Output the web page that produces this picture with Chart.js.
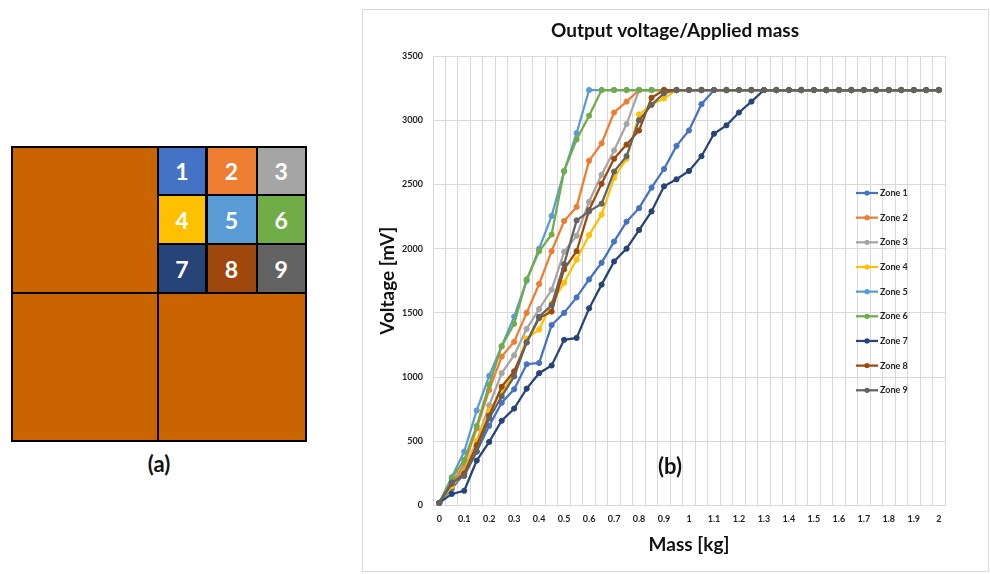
<!DOCTYPE html>
<html>
<head>
<meta charset="utf-8">
<script src="https://cdn.jsdelivr.net/npm/chart.js@4.4.1/dist/chart.umd.min.js"></script>
<style>
  body { margin: 0; background: #fff; font-family: Lato, sans-serif; }
  #page { position: relative; width: 990px; height: 574px; overflow: hidden; background: #fff; }
  .grid-bg { position: absolute; left: 11px; top: 146px; width: 296px; height: 296px; background: #000; }
  .cell { position: absolute; color: #fff; font-weight: bold; font-size: 23px; display: flex; align-items: center; justify-content: center; }
  .big { background: #c96400; }
  .lbl { position: absolute; font-weight: bold; font-size: 22px; color: #111; transform: translate(-50%, -50%); }
  #frame { position: absolute; left: 362px; top: 9px; width: 627px; height: 563px; box-sizing: border-box; border: 1px solid #d9d9d9; }
  #chartBox { position: absolute; left: 362px; top: 10px; width: 626px; height: 562px; }
</style>
</head>
<body>
<div id="page">
  <!-- (a) zone layout -->
  <div class="grid-bg"></div>
  <div class="cell big" style="left:13px;top:148px;width:144px;height:144px"></div>
  <div class="cell big" style="left:13px;top:294px;width:144px;height:146px"></div>
  <div class="cell big" style="left:159px;top:294px;width:146px;height:146px"></div>
  <div class="cell" style="left:159px;top:148px;width:46px;height:46px;background:#4472c4">1</div>
  <div class="cell" style="left:207.5px;top:148px;width:48px;height:46px;background:#ed7d31">2</div>
  <div class="cell" style="left:257.5px;top:148px;width:47.5px;height:46px;background:#a5a5a5">3</div>
  <div class="cell" style="left:159px;top:196px;width:46px;height:47px;background:#ffc000">4</div>
  <div class="cell" style="left:207.5px;top:196px;width:48px;height:47px;background:#5b9bd5">5</div>
  <div class="cell" style="left:257.5px;top:196px;width:47.5px;height:47px;background:#70ad47">6</div>
  <div class="cell" style="left:159px;top:245px;width:46px;height:47px;background:#264478">7</div>
  <div class="cell" style="left:207.5px;top:245px;width:48px;height:47px;background:#9e480e">8</div>
  <div class="cell" style="left:257.5px;top:245px;width:47.5px;height:47px;background:#636363">9</div>
  <div class="lbl" style="left:159px;top:463px">(a)</div>

  <!-- (b) chart -->
  <div id="frame"></div>
  <div id="chartBox"><canvas id="voltChart"></canvas></div>
  <div class="lbl" style="left:670px;top:465px">(b)</div>
</div>

<script>
// Mass categories [kg] (every 0.05, labelled every 0.1)
const masses = ['0','0.05','0.1','0.15','0.2','0.25','0.3','0.35','0.4','0.45','0.5','0.55','0.6','0.65','0.7','0.75','0.8','0.85','0.9','0.95',
  '1','1.05','1.1','1.15','1.2','1.25','1.3','1.35','1.4','1.45','1.5','1.55','1.6','1.65','1.7','1.75','1.8','1.85','1.9','1.95','2'];

const zoneNames = ['Zone 1','Zone 2','Zone 3','Zone 4','Zone 5','Zone 6','Zone 7','Zone 8','Zone 9'];
const zoneColors = ['#4472c4','#ed7d31','#a5a5a5','#ffc000','#5b9bd5','#70ad47','#264478','#9e480e','#636363'];

// Output voltage [mV]
const zone1 = [20,130,250,420,620,800,905,1100,1110,1405,1500,1620,1760,1890,2055,2210,2315,2475,2620,2800,
  2920,3125,3235,3235,3235,3235,3235,3235,3235,3235,3235,3235,3235,3235,3235,3235,3235,3235,3235,3235,3235];
const zone2 = [20,170,320,600,900,1160,1275,1500,1725,1980,2215,2325,2685,2820,3060,3145,3235,3235,3235,3235,
  3235,3235,3235,3235,3235,3235,3235,3235,3235,3235,3235,3235,3235,3235,3235,3235,3235,3235,3235,3235,3235];
const zone3 = [20,160,280,500,780,1030,1170,1375,1530,1680,1975,2100,2365,2575,2765,2970,3235,3235,3235,3235,
  3235,3235,3235,3235,3235,3235,3235,3235,3235,3235,3235,3235,3235,3235,3235,3235,3235,3235,3235,3235,3235];
const zone4 = [20,150,260,500,740,880,1020,1300,1370,1575,1735,1915,2105,2265,2550,2700,3045,3120,3170,3235,
  3235,3235,3235,3235,3235,3235,3235,3235,3235,3235,3235,3235,3235,3235,3235,3235,3235,3235,3235,3235,3235];
const zone5 = [20,220,420,740,1010,1240,1470,1750,2000,2255,2600,2900,3235,3235,3235,3235,3235,3235,3235,3235,
  3235,3235,3235,3235,3235,3235,3235,3235,3235,3235,3235,3235,3235,3235,3235,3235,3235,3235,3235,3235,3235];
const zone6 = [20,210,355,620,940,1240,1415,1760,1980,2110,2605,2850,3035,3235,3235,3235,3235,3235,3235,3235,
  3235,3235,3235,3235,3235,3235,3235,3235,3235,3235,3235,3235,3235,3235,3235,3235,3235,3235,3235,3235,3235];
const zone7 = [20,90,115,350,495,660,755,910,1030,1090,1290,1305,1535,1720,1900,2000,2145,2290,2485,2540,
  2605,2720,2895,2960,3060,3145,3235,3235,3235,3235,3235,3235,3235,3235,3235,3235,3235,3235,3235,3235,3235];
const zone8 = [20,170,250,470,700,925,1045,1270,1460,1510,1840,1980,2300,2505,2700,2810,2920,3175,3235,3235,
  3235,3235,3235,3235,3235,3235,3235,3235,3235,3235,3235,3235,3235,3235,3235,3235,3235,3235,3235,3235,3235];
const zone9 = [20,180,230,420,680,850,1005,1270,1470,1560,1880,2220,2290,2350,2600,2720,3000,3120,3210,3235,
  3235,3235,3235,3235,3235,3235,3235,3235,3235,3235,3235,3235,3235,3235,3235,3235,3235,3235,3235,3235,3235];

const zoneValues = [zone1, zone2, zone3, zone4, zone5, zone6, zone7, zone8, zone9];

const yMin = 0, yMax = 3500, yStep = 500;

Chart.defaults.font.family = 'Lato, "Open Sans", sans-serif';
Chart.defaults.color = '#222';

// legend sits inside the plot, like the Excel one
const zoneLegend = {
  id: 'zoneLegend',
  afterDraw(chart) {
    const ctx = chart.ctx;
    const x0 = 494, y0 = 183, gap = 24.66;
    chart.data.datasets.forEach((ds, i) => {
      const y = y0 + i * gap;
      ctx.save();
      ctx.strokeStyle = ds.borderColor;
      ctx.lineWidth = 2.25;
      ctx.beginPath(); ctx.moveTo(x0, y); ctx.lineTo(x0 + 22, y); ctx.stroke();
      ctx.fillStyle = ds.borderColor;
      ctx.beginPath(); ctx.arc(x0 + 11, y, 2.6, 0, Math.PI * 2); ctx.fill();
      ctx.fillStyle = '#262626';
      ctx.font = 'bold 9px Lato';
      ctx.textBaseline = 'middle';
      ctx.fillText(ds.label, x0 + 24, y);
      ctx.restore();
    });
  }
};

new Chart(document.getElementById('voltChart'), {
  type: 'line',
  data: {
    labels: masses,
    datasets: zoneNames.map((name, i) => ({
      label: name,
      data: zoneValues[i],
      borderColor: zoneColors[i],
      backgroundColor: zoneColors[i],
      pointBackgroundColor: zoneColors[i],
      pointBorderColor: zoneColors[i],
      borderWidth: 2.25,
      pointRadius: 2.6,
      pointBorderWidth: 1,
      tension: 0,
      order: 10 - i,
    })),
  },
  options: {
    responsive: true, maintainAspectRatio: false, animation: false,
    layout: { padding: 0 },
    plugins: {
      legend: { display: false },
      tooltip: { enabled: false },
      title: {
        display: true, text: 'Output voltage/Applied mass', color: '#111',
        font: { size: 19, weight: 'bold', lineHeight: 1.2 },
        padding: { top: 9.6, bottom: 13.6 },
      },
    },
    scales: {
      x: {
        type: 'category', offset: true,
        grid: { offset: true, color: '#d9d9d9', drawTicks: false },
        border: { color: '#d9d9d9' },
        ticks: {
          autoSkip: false, maxRotation: 0, minRotation: 0, padding: 8,
          font: { size: 9, weight: 'bold' }, color: '#222',
          callback: function (v, idx) { return idx % 2 === 0 ? this.getLabelForValue(v) : ''; },
        },
        title: { display: true, text: 'Mass [kg]', color: '#111', font: { size: 19, weight: 'bold', lineHeight: 1.2 }, padding: { top: 0, bottom: 15.6 } },
        afterFit: s => { s.height = 66.5; },
      },
      y: {
        min: yMin, max: yMax,
        grid: { color: '#d9d9d9', drawTicks: false },
        border: { display: false },
        ticks: { stepSize: yStep, padding: 10, font: { size: 9, weight: 'bold' }, color: '#222', callback: v => String(v) },
        title: { display: true, text: 'Voltage [mV]', color: '#111', font: { size: 19, weight: 'bold', lineHeight: 1.2 }, padding: { top: 14.6, bottom: 0 } },
        afterFit: s => { s.width = 71; },
      },
      // empty right-hand spacer so the plot ends where the reference does
      yRight: {
        position: 'right', display: true,
        grid: { display: false, drawTicks: false }, border: { display: false },
        ticks: { display: false },
        afterFit: s => { s.width = 43; },
      },
    },
  },
  plugins: [zoneLegend],
});
</script>
</body>
</html>
